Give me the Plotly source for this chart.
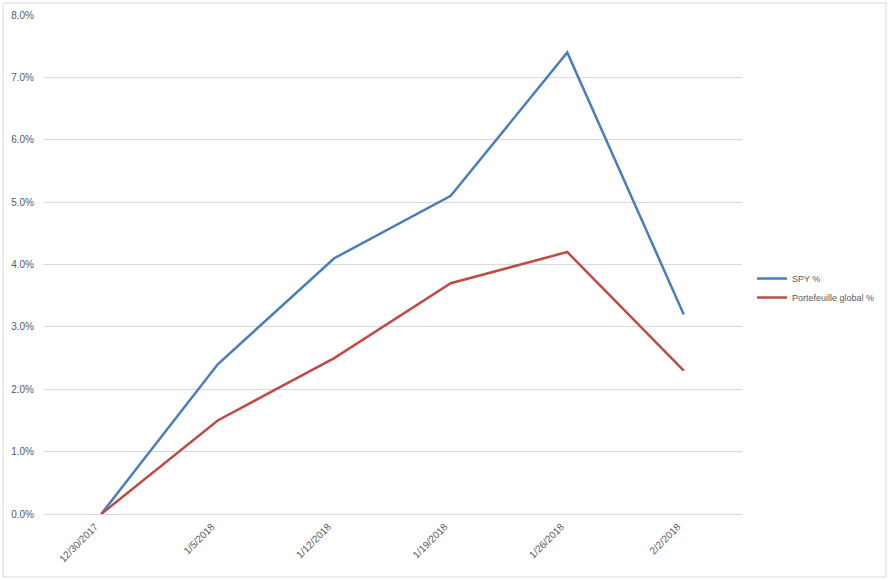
import plotly.graph_objects as go

dates = ["12/30/2017", "1/5/2018", "1/12/2018", "1/19/2018", "1/26/2018", "2/2/2018"]
spy_pct = [0.0, 2.4, 4.1, 5.1, 7.4, 3.2]
portfolio_pct = [0.0, 1.5, 2.5, 3.7, 4.2, 2.3]
y_ticks = [0, 1, 2, 3, 4, 5, 6, 7, 8]
y_tick_labels = [f"{v:.1f}%" for v in y_ticks]

W, H = 889, 580
ml, mr, mt, mb = 43, 147, 15, 66

fig = go.Figure()
fig.add_trace(go.Scatter(x=dates, y=spy_pct, mode="lines", name="SPY %",
                         line=dict(color="#4A7EBB", width=2.5)))
fig.add_trace(go.Scatter(x=dates, y=portfolio_pct, mode="lines", name="Portefeuille global %",
                         line=dict(color="#BE4B48", width=2.5)))

pw = W - ml - mr
ph = H - mt - mb
# outer chart border
fig.add_shape(type="rect", xref="paper", yref="paper",
              x0=(3 - ml) / pw, x1=(886 - ml) / pw,
              y0=(H - mb - 577) / ph, y1=(H - mb - 3) / ph,
              line=dict(color="#D9D9D9", width=1), layer="below")

fig.update_layout(
    width=W, height=H,
    margin=dict(l=ml, r=mr, t=mt, b=mb, pad=0, autoexpand=False),
    paper_bgcolor="white", plot_bgcolor="white",
    font=dict(family="Liberation Sans, Arial, sans-serif", size=10, color="#595959"),
    xaxis=dict(type="category", range=[-0.5, 5.5], showgrid=False, zeroline=False,
               showline=False, ticks="", tickangle=-45, automargin=False,
               ticklabelshift=-6, ticklabelstandoff=4,
               tickfont=dict(size=10, color="#595959")),
    yaxis=dict(range=[0, 8], tickvals=y_ticks, ticktext=y_tick_labels, automargin=False,
               showgrid=True, gridcolor="#D9D9D9", gridwidth=1, zeroline=True,
               zerolinecolor="#D9D9D9", zerolinewidth=1, showline=False, ticks="",
               ticklabelstandoff=8, tickfont=dict(size=10, color="#595959")),
    legend=dict(x=(752 - ml) / pw, xanchor="left", y=(H - mb - 288) / ph, yanchor="middle",
                font=dict(size=9, color="#595959"), tracegroupgap=4, bgcolor="rgba(0,0,0,0)"),
    showlegend=True,
)

fig.write_html("out.html", config={"displayModeBar": False},
               post_script="document.body.style.margin='0px';document.body.style.overflow='hidden';")
